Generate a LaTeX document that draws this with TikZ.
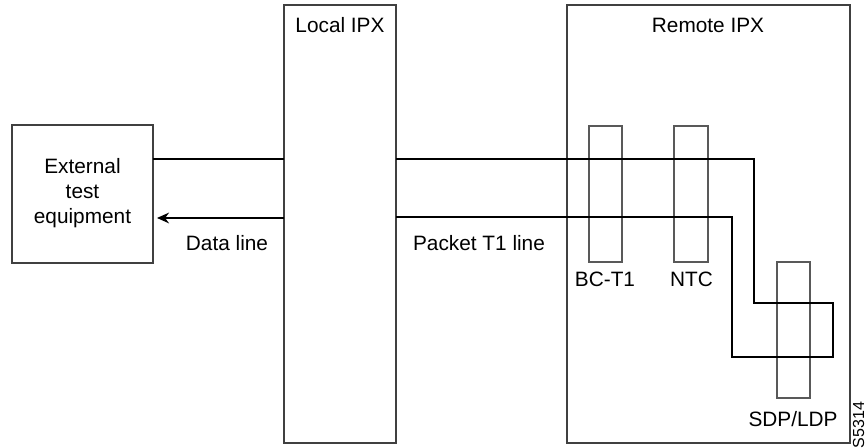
\documentclass[tikz,border=0pt]{standalone}
\usepackage{fontspec}
\setmainfont{Liberation Sans}
\usetikzlibrary{arrows.meta}
\begin{document}
\begin{tikzpicture}[x=0.75pt,y=-0.75pt,
  box/.style={draw=black!75,line width=0.8pt},
  card/.style={draw=black!65,line width=0.8pt},
  wire/.style={draw=black,line width=1.4pt},
  lbl/.style={font=\fontsize{15.6}{18.75}\selectfont,inner sep=0pt}]
\useasboundingbox (0,0) rectangle (868,448);
% boxes
\draw[box] (12,125) rectangle (153,263);
\node[lbl,align=center] (ext) at (82.5,193) {External\\test\\equipment};
\coordinate (extR) at (153,218);
\draw[box] (284,5) rectangle (396,443);
\node[lbl] (lipx) at (340,25) {Local IPX};
\draw[box] (567,5) rectangle (850,443);
\node[lbl] (ripx) at (708,25) {Remote IPX};
% cards
\draw[card] (589,126) rectangle (622,262);
\draw[card] (674,126) rectangle (708,262);
\draw[card] (777,262) rectangle (810,398);
\node[lbl] (bc) at (605,279) {BC-T1};
\node[lbl] (ntc) at (691.5,279) {NTC};
\node[lbl] (sdp) at (793,419) {SDP/LDP};
% wires
\coordinate (a1) at (153,159);
\coordinate (a2) at (284,159);
\draw[wire] (a1) -- (a2);
\coordinate (b1) at (284,218);
\draw[wire,-{Stealth[length=9pt,width=8pt]}] (b1) -- (157,218);
\draw[wire] (396,159) -- (754,159) -- (754,303) -- (833,303) -- (833,357) -- (732,357) -- (732,217) -- (396,217);
\node[lbl] (dl) at (227,243) {Data line};
\node[lbl] (pt) at (479,243) {Packet T1 line};
\node[lbl,rotate=90,font=\fontsize{12}{14}\selectfont] (id) at (858.5,425) {S5314};
\end{tikzpicture}
\end{document}
